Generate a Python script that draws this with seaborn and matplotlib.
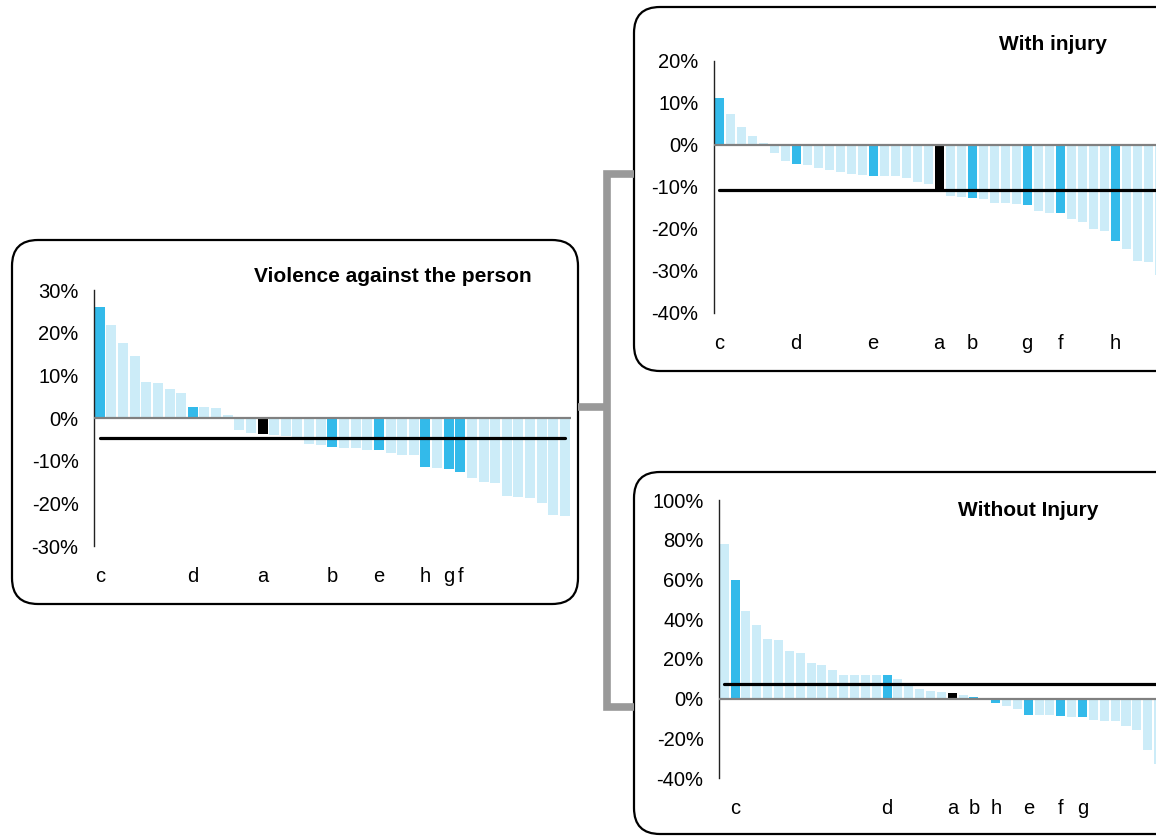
import numpy as np
import pandas as pd
import seaborn as sns
import matplotlib.pyplot as plt
from matplotlib.patches import FancyBboxPatch

sns.set_style("white")
plt.rcParams['font.family'] = ['Liberation Sans', 'DejaVu Sans']
plt.rcParams['text.color'] = 'black'
plt.rcParams['xtick.color'] = 'black'
plt.rcParams['ytick.color'] = 'black'

# data (percentage change per area, sorted)
violence = [26.0, 21.7, 17.5, 14.5, 8.4, 8.1, 6.7, 5.8, 2.5, 2.5, 2.3, 0.6,
            -2.7, -3.6, -3.75, -4.1, -4.3, -5.2, -6.2, -6.3, -6.8, -7.0, -7.0,
            -7.5, -7.5, -8.2, -8.7, -8.7, -11.5, -11.7, -12.0, -12.7, -14.1,
            -15.0, -15.2, -18.3, -18.5, -18.75, -19.9, -22.7, -23.0]
violence_mean = -4.6
violence_marks = {0: 'c', 8: 'd', 14: 'a', 20: 'b', 24: 'e', 28: 'h', 30: 'g', 31: 'f'}

with_injury = [11.1, 7.5, 4.4, 2.1, 0.4, -1.9, -3.8, -4.5, -4.8, -5.5, -6.0,
               -6.4, -6.9, -7.1, -7.4, -7.4, -7.4, -7.9, -8.7, -9.2, -10.7,
               -12.1, -12.3, -12.5, -12.8, -13.7, -13.7, -14.0, -14.2, -15.6,
               -16.1, -16.3, -17.5, -18.3, -19.9, -20.4, -22.8, -24.7, -27.5,
               -27.8, -30.9]
with_mean = -10.6
with_marks = {0: 'c', 7: 'd', 14: 'e', 20: 'a', 23: 'b', 28: 'g', 31: 'f', 36: 'h'}

without_injury = [78.0, 59.9, 44.3, 37.3, 30.2, 29.7, 24.2, 22.7, 18.1, 17.1,
                  14.6, 12.1, 12.1, 12.1, 12.1, 12.1, 10.1, 7.6, 5.0, 4.0, 3.4,
                  2.9, 1.8, 0.8, -0.3, -2.2, -3.7, -5.2, -8.2, -8.2, -8.2, -8.7,
                  -9.2, -9.2, -10.7, -11.2, -11.2, -13.8, -15.8, -25.8, -32.9]
without_mean = 7.5
without_marks = {1: 'c', 15: 'd', 21: 'a', 23: 'b', 25: 'h', 28: 'e', 31: 'f', 33: 'g'}

LIGHT = '#CCECF8'
BLUE = '#33BAEA'
BLACK = '#000000'

W, H = 1156, 836
fig = plt.figure(figsize=(W / 100, H / 100), dpi=100)

# background layer in pixel units for the rounded boxes and connectors
bg = fig.add_axes([0, 0, 1, 1], zorder=0)
bg.set_xlim(0, W)
bg.set_ylim(H, 0)
bg.axis('off')
for (x, y, w, h) in [(12, 240, 566, 364), (634, 7, 560, 364), (634, 472, 560, 362)]:
    bg.add_patch(FancyBboxPatch((x, y), w, h, boxstyle="round,pad=0,rounding_size=26",
                                fc='white', ec='black', lw=1.6))
bg.plot([634, 607, 607, 634], [174, 174, 707, 707], color='#999999', lw=5.5,
        solid_joinstyle='miter', solid_capstyle='butt')
bg.plot([578, 607], [407, 407], color='#999999', lw=5.5, solid_capstyle='butt')


def px_rect(x0, x1, ytop, ybot):
    return [x0 / W, 1 - ybot / H, (x1 - x0) / W, (ybot - ytop) / H]


def panel(rect, values, mean, marks, ylim, yticks, width, title, title_xy):
    ax = fig.add_axes(rect, zorder=1)
    ax.set_facecolor('none')
    n = len(values)
    cats = [str(i) for i in range(n)]
    colors = {}
    for i, c in enumerate(cats):
        if i in marks:
            colors[c] = BLACK if marks[i] == 'a' else BLUE
        else:
            colors[c] = LIGHT
    df = pd.DataFrame({'area': cats, 'change': values})
    sns.barplot(data=df, x='area', y='change', hue='area', palette=colors,
                legend=False, width=width, saturation=1, linewidth=0, ax=ax, zorder=2)
    ax.axhline(0, color='#808080', lw=1.6, zorder=3)
    sns.lineplot(x=np.arange(n), y=[mean] * n, color='black', lw=2.3, ax=ax, zorder=4)
    ax.set_xlim(-0.5, n - 0.5)
    ax.set_ylim(*ylim)
    ax.set_yticks(yticks)
    ax.set_yticklabels([f'{t}%' for t in yticks])
    ax.set_xticks(list(marks.keys()))
    ax.set_xticklabels(list(marks.values()))
    ax.set_xlabel('')
    ax.set_ylabel('')
    for s in ['top', 'right', 'bottom']:
        ax.spines[s].set_visible(False)
    ax.spines['left'].set_color('#222222')
    ax.spines['left'].set_linewidth(1.0)
    ax.tick_params(axis='y', direction='out', length=5, width=1, color='#222222',
                   pad=6, labelsize=14.5)
    ax.tick_params(axis='x', length=0, pad=15, labelsize=14.5)
    fig.text(title_xy[0] / W, 1 - title_xy[1] / H, title, ha='center', va='center',
             fontsize=15, fontweight='bold')
    return ax


panel(px_rect(93.9, 570.8, 290, 546), violence, violence_mean, violence_marks,
      (-30, 30), [-30, -20, -10, 0, 10, 20, 30], 0.86,
      'Violence against the person', (393, 277))
panel(px_rect(713.7, 1164.7, 61, 313), with_injury, with_mean, with_marks,
      (-40, 20), [-40, -30, -20, -10, 0, 10, 20], 0.82,
      'With injury', (1053, 44))
panel(px_rect(718.8, 1164.0, 500, 778), without_injury, without_mean, without_marks,
      (-40, 100), [-40, -20, 0, 20, 40, 60, 80, 100], 0.83,
      'Without Injury', (1028, 510))

fig.savefig('out.png', dpi=100)
